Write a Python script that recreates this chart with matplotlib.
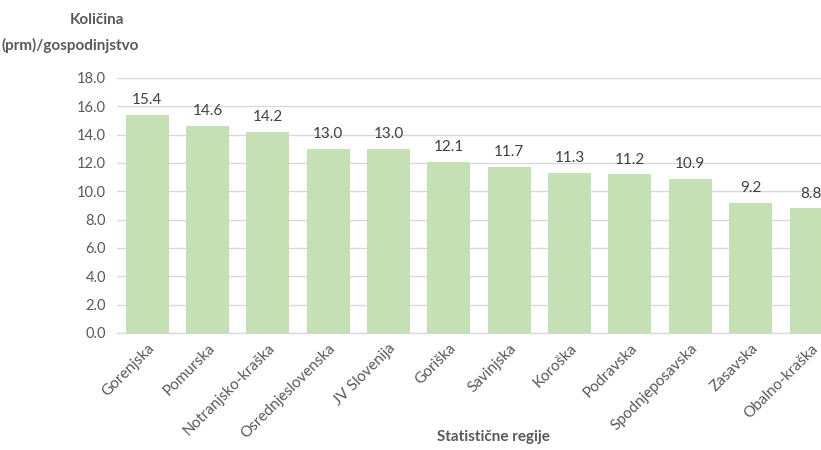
import matplotlib
matplotlib.use("Agg")
from matplotlib import pyplot as plt
import numpy as np

plt.rcParams['font.family'] = ['Lato', 'DejaVu Sans']

regions = ['Gorenjska', 'Pomurska', 'Notranjsko-kraška', 'Osrednjeslovenska',
           'JV Slovenija', 'Goriška', 'Savinjska', 'Koroška', 'Podravska',
           'Spodnjeposavska', 'Zasavska', 'Obalno-kraška']
values = [15.4, 14.6, 14.2, 13.0, 13.0, 12.1, 11.7, 11.3, 11.2, 10.9, 9.2, 8.8]
yticks = np.arange(0, 18.1, 2)

bar_color = '#c5e0b4'
grid_color = '#d9d9d9'
text_color = '#595959'

fig = plt.figure(figsize=(8.21, 4.5), dpi=100)
# the plot area runs past the right edge, so the last bar is clipped
ax = fig.add_axes([0.1425, 0.26, 0.882, 0.5667])

x = np.arange(len(regions))
ax.bar(x, values, width=0.71, color=bar_color, zorder=2)
for xi, v in zip(x, values):
    ax.text(xi, v + 0.55, f"{v:.1f}", ha='center', va='bottom',
            fontsize=11, color='#404040', clip_on=False)

ax.set_xlim(-0.5, len(regions) - 0.5)
ax.set_ylim(0, 18)
ax.set_yticks(yticks)
ax.set_yticklabels([f"{t:.1f}" for t in yticks], fontsize=10.5, color=text_color)
ax.set_xticks(x)
ax.set_xticklabels(regions, rotation=45, ha='right', rotation_mode='anchor',
                   fontsize=11, color=text_color)
ax.tick_params(length=0, pad=8)
ax.tick_params(axis='x', pad=6)

ax.yaxis.grid(True, color=grid_color, linewidth=1, zorder=0)
for side in ['top', 'right', 'left']:
    ax.spines[side].set_visible(False)
ax.spines['bottom'].set_color(grid_color)
ax.spines['bottom'].set_linewidth(1)

fig.text(97 / 821, 1 - 20 / 450, 'Količina', ha='center', va='center',
         fontsize=11, fontweight='bold', color=text_color)
fig.text(1 / 821, 1 - 45 / 450, '(prm)/gospodinjstvo', ha='left', va='center',
         fontsize=11, fontweight='bold', color=text_color)
fig.text(493 / 821, 1 - 437 / 450, 'Statistične regije', ha='center', va='center',
         fontsize=11, fontweight='bold', color=text_color)

fig.savefig('out.png', dpi=100)
